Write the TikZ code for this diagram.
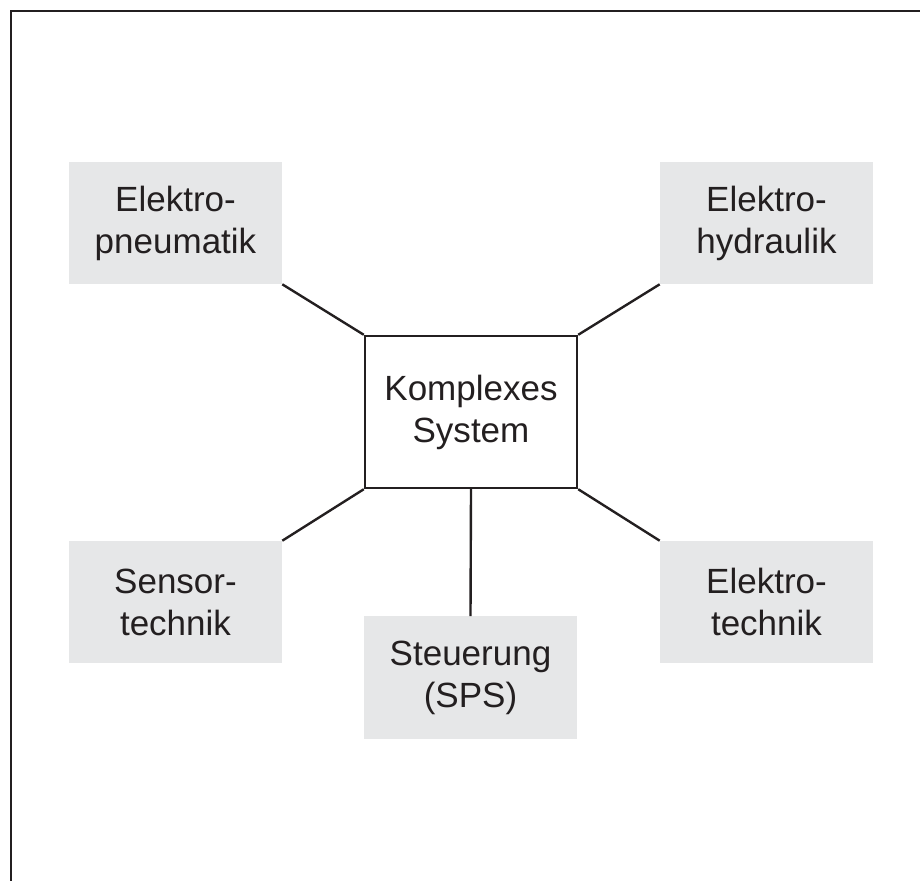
\documentclass[tikz,border=0pt]{standalone}
\usepackage{fontspec}
\setmainfont{Liberation Sans}
\usepackage{tikz}
\usepackage{color}
\definecolor{boxgray}{RGB}{230,231,232}
\definecolor{inkdark}{RGB}{35,31,32}

\begin{document}
\begin{tikzpicture}[x=0.025cm, y=-0.025cm,
    fach/.style={fill=boxgray, minimum width=5.325cm, minimum height=3.05cm, align=center, text=inkdark, font=\fontsize{24.9}{29.9}\selectfont},
    kern/.style={draw=inkdark, line width=1.7pt, minimum width=5.3cm, minimum height=3.8cm, align=center, text=inkdark, font=\fontsize{24.9}{29.9}\selectfont},
    link/.style={draw=inkdark, line width=1.7pt}]
  \useasboundingbox (0,0) rectangle (920,881);
  \draw[inkdark, line width=2.1pt] (920,11) -| (11,881);

  \node[kern] (sys) at (471, 412) {Komplexes\\System};

  \node[fach] (pneu) at (175.5, 223) {Elektro-\\pneumatik};
  \node[fach] (hydr) at (766.5, 223) {Elektro-\\hydraulik};
  \node[fach] (sens) at (175.5, 602) {Sensor-\\technik};
  \node[fach] (etec) at (766.5, 602) {Elektro-\\technik};
  \node[fach] (sps)  at (470.5, 677.5) {Steuerung\\(SPS)};

  \draw[link] (pneu.south east) -- (sys.north west);
  \draw[link] (hydr.south west) -- (sys.north east);
  \draw[link] (sens.north east) -- (sys.south west);
  \draw[link] (etec.north west) -- (sys.south east);
  \draw[link] (sys.south) -- (sps.north);
\end{tikzpicture}
\end{document}
